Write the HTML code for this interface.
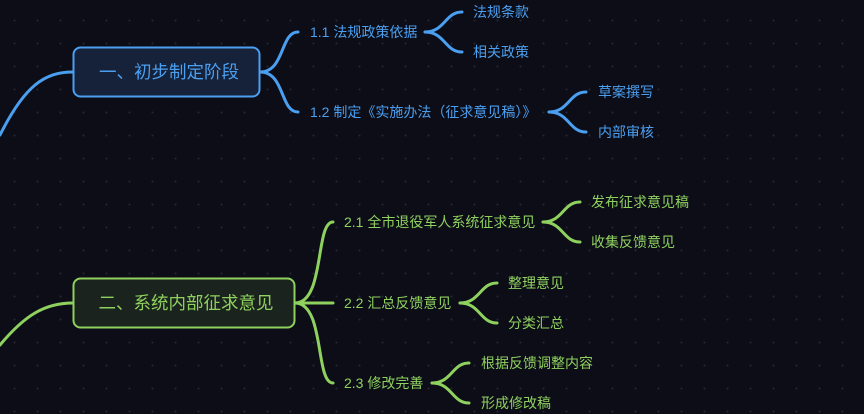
<!DOCTYPE html>
<html><head><meta charset="utf-8"><style>
html,body{margin:0;padding:0;background:#0c0d17;}
svg{display:block}
text{font-family:"Liberation Sans","Noto Sans CJK SC",sans-serif;}
</style></head><body>
<svg width="864" height="414" viewBox="0 0 864 414" xmlns="http://www.w3.org/2000/svg">
<defs><pattern id="d" x="3" y="9" width="23" height="23" patternUnits="userSpaceOnUse"><circle cx="11.5" cy="11.5" r="1" fill="#262836"/></pattern></defs>
<rect width="864" height="414" fill="#0c0d17"/>
<rect width="864" height="414" fill="url(#d)"/>
<g fill="none" stroke-width="3" stroke-linecap="round">
<g stroke="#4b9ff0">
<path d="M0,135 C25,85 45,72 73,72"/>
<path d="M260,72 C285,72 280,32 298,32"/>
<path d="M260,72 C285,72 280,112 298,112"/>
<path d="M425,32 C445,32 445,12 462,12"/>
<path d="M425,32 C445,32 445,52 462,52"/>
<path d="M549,112 C569,112 569,92 586,92"/>
<path d="M549,112 C569,112 569,132 586,132"/>
</g>
<g stroke="#8fd15f">
<path d="M0,345 C25,315 45,303 73,303"/>
<path d="M295,303 C325,303 315,222 333,222"/>
<path d="M295,303 L333,303"/>
<path d="M295,303 C325,303 315,383 333,383"/>
<path d="M543,222 C563,222 563,202 580,202"/>
<path d="M543,222 C563,222 563,242 580,242"/>
<path d="M460,303 C480,303 480,283 497,283"/>
<path d="M460,303 C480,303 480,323 497,323"/>
<path d="M432,383 C452,383 452,363 469,363"/>
<path d="M432,383 C452,383 452,403 469,403"/>
</g>
</g>
<rect x="73.5" y="47.5" width="186" height="49" rx="7" fill="#15223a" stroke="#4b9ff0" stroke-width="2"/>
<text x="169" y="78" text-anchor="middle" font-size="17.5" fill="#4b9ff0">一、初步制定阶段</text>
<rect x="73.5" y="278.5" width="221" height="49" rx="7" fill="#1a231d" stroke="#8fd15f" stroke-width="2"/>
<text x="186" y="309" text-anchor="middle" font-size="17.5" fill="#8fd15f">二、系统内部征求意见</text>
<g font-size="14" fill="#4b9ff0">
<text x="310" y="37">1.1 法规政策依据</text>
<text x="310" y="117">1.2 制定《实施办法（征求意见稿）》</text>
<text x="473" y="17">法规条款</text>
<text x="473" y="57">相关政策</text>
<text x="598" y="97">草案撰写</text>
<text x="598" y="137">内部审核</text>
</g>
<g font-size="14" fill="#8fd15f">
<text x="344" y="227">2.1 全市退役军人系统征求意见</text>
<text x="344" y="308">2.2 汇总反馈意见</text>
<text x="344" y="388">2.3 修改完善</text>
<text x="591" y="207">发布征求意见稿</text>
<text x="591" y="247">收集反馈意见</text>
<text x="508" y="288">整理意见</text>
<text x="508" y="328">分类汇总</text>
<text x="481" y="368">根据反馈调整内容</text>
<text x="481" y="408">形成修改稿</text>
</g>
</svg>
</body></html>
